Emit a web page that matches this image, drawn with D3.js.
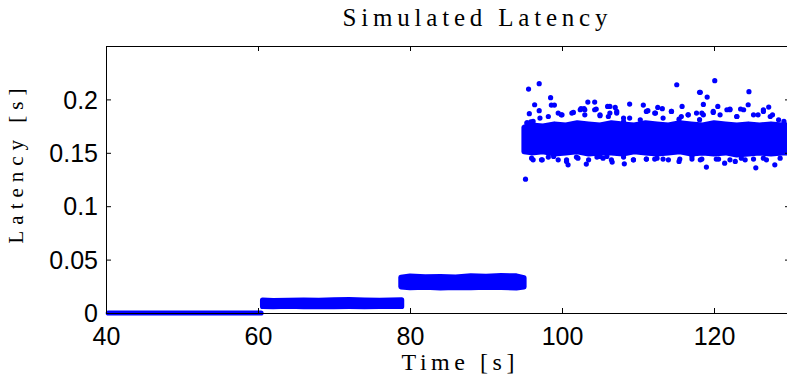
<!DOCTYPE html>
<html>
<head>
<meta charset="utf-8">
<script src="https://cdn.jsdelivr.net/npm/d3@7"></script>
<style>
  body { margin: 0; background: #fff; }
  #chart { display: block; }
</style>
</head>
<body>
<svg id="chart" width="787" height="385"></svg>
<script>
// tick values
var xTicks = [40, 60, 80, 100, 120];
var yTicks = [0, 0.05, 0.1, 0.15, 0.2];

// dense bands of markers: edges of the marker centres
var band1Time = [40.3, 60.4];
var band1Low  = [0, 0];
var band1High = [0, 0];

var band2Time = [60.6, 62, 64, 66, 68, 70, 72, 74, 76, 78.9];
var band2Low  = [0.0062, 0.0060, 0.0063, 0.0059, 0.0062, 0.0060, 0.0061, 0.0059, 0.0062, 0.0061];
var band2High = [0.0120, 0.0117, 0.0119, 0.0121, 0.0118, 0.0122, 0.0126, 0.0121, 0.0119, 0.0122];

var band3Time = [78.8, 80, 82, 84, 86, 88, 90, 92, 94, 95.0];
var band3Low  = [0.0245, 0.0238, 0.0242, 0.0236, 0.0240, 0.0237, 0.0243, 0.0239, 0.0236, 0.0244];
var band3High = [0.0335, 0.0345, 0.0338, 0.0342, 0.0336, 0.0348, 0.0344, 0.0350, 0.0347, 0.0330];

var band4Time = [95.0, 96, 97.5, 99, 100.5, 102, 103.5, 105, 106.5, 108, 109.5, 111, 112.5,
                 114, 115.5, 117, 118.5, 120, 121.5, 123, 124.5, 126, 127.5, 129, 130.5];
var band4Low  = [0.151, 0.150, 0.151, 0.149, 0.150, 0.151, 0.149, 0.150, 0.150, 0.149, 0.151, 0.150, 0.149,
                 0.150, 0.151, 0.149, 0.150, 0.149, 0.150, 0.148, 0.149, 0.150, 0.149, 0.150, 0.150];
var band4High = [0.174, 0.176, 0.175, 0.177, 0.176, 0.178, 0.177, 0.176, 0.178, 0.177, 0.176, 0.178, 0.177,
                 0.176, 0.178, 0.177, 0.176, 0.178, 0.177, 0.176, 0.177, 0.176, 0.177, 0.176, 0.176];

// scattered markers outside the dense part of the last band
var outTime = [95.6, 97.0, 95.2, 98.5, 96.4, 98.6, 99.0, 95.7, 97.0, 103.4, 104.3, 102.5, 102.9,
               101.5, 99.9, 104.5, 106.0, 103.0, 105.0, 95.4, 95.9,
               96.2, 97.4, 99.5, 100.6, 100.8, 103.2, 104.6, 98.2, 102.1, 105.4,
               115.1, 118.1, 108.9, 110.7, 106.3, 107.0, 112.6, 113.2, 115.8, 111.3, 112.3, 114.4,
               116.6, 107.2, 118.1, 106.1, 108.1, 115.4,
               106.6, 108.2, 109.4, 111.1, 112.2, 113.3, 115.4, 117.1, 105.9,
               120.1, 118.2, 119.1, 124.6, 118.6, 120.5, 121.7, 122.1, 123.5, 124.5, 126.5, 127.2,
               123.0, 127.7, 125.8, 119.9, 118.4,
               119.0, 125.5, 121.4, 122.8, 118.4, 120.6, 124.1, 128.0, 126.5];
var outLatency = [0.2097, 0.2147, 0.1253, 0.2016, 0.1950, 0.1947, 0.1947, 0.1866, 0.1894, 0.1975, 0.1975, 0.1913, 0.1913,
                  0.1878, 0.1856, 0.1910, 0.1934, 0.1856, 0.1847, 0.1780, 0.1790,
                  0.1434, 0.1434, 0.1434, 0.1419, 0.1387, 0.1394, 0.1460, 0.1460, 0.1450, 0.1450,
                  0.2137, 0.2066, 0.1956, 0.1947, 0.1934, 0.1925, 0.1925, 0.1913, 0.1934, 0.1894, 0.1872, 0.1887,
                  0.1856, 0.1872, 0.1810, 0.1840, 0.1793, 0.1815,
                  0.1413, 0.1397, 0.1434, 0.1441, 0.1441, 0.1441, 0.1419, 0.1441, 0.1466,
                  0.2175, 0.2066, 0.2022, 0.2072, 0.1953, 0.1934, 0.1903, 0.1910, 0.1910, 0.1950, 0.1903, 0.1928,
                  0.1840, 0.1856, 0.1856, 0.1878, 0.1872,
                  0.1366, 0.1359, 0.1403, 0.1419, 0.1441, 0.1441, 0.1434, 0.1387, 0.1450];

// markers along the ragged upper and lower edge of the last band
var edgeTime = [95.4, 96.2, 97.1, 98.2, 99.5, 100.0, 101.3, 102.4, 103.0, 104.3, 105.0, 106.3, 107.2,
                108.1, 108.9, 110.3, 111.1, 112.2, 113.3, 114.4, 115.7, 116.6, 117.7, 118.6, 119.9,
                120.8, 122.1, 123.0, 123.9, 125.2, 126.5, 127.4, 128.5, 129.2,
                96.0, 97.3, 98.9, 100.6, 101.9, 103.5, 105.0, 106.5, 108.1, 109.4, 111.1, 112.5,
                114.0, 115.5, 117.1, 118.2, 120.3, 122.1, 123.6, 125.2, 126.9, 128.7];
var edgeLatency = [0.1780, 0.1794, 0.1825, 0.1840, 0.1872, 0.1856, 0.1872, 0.1903, 0.1903, 0.1903, 0.1856, 0.1872, 0.1887,
                   0.1825, 0.1825, 0.1809, 0.1887, 0.1872, 0.1825, 0.1887, 0.1840, 0.1856, 0.1872, 0.1856, 0.1887,
                   0.1856, 0.1903, 0.1840, 0.1903, 0.1856, 0.1887, 0.1840, 0.1809, 0.1794,
                   0.1450, 0.1434, 0.1466, 0.1434, 0.1460, 0.1434, 0.1466, 0.1434, 0.1460, 0.1434, 0.1441, 0.1450,
                   0.1434, 0.1441, 0.1466, 0.1434, 0.1441, 0.1434, 0.1450, 0.1441, 0.1434, 0.1450];

var margin = {left: 106, top: 46},
	w = 684,
	h = 267,
	r = 2.6,
	blue = "#0000ff";

var xScale = d3.scaleLinear().domain([40, 130]).range([0, w]);
var yScale = d3.scaleLinear().domain([0, 0.25]).range([h, 0]);

var svg = d3.select("#chart");
var chart = svg.append("g")
	.attr("transform", "translate(" + margin.left + "," + margin.top + ")");

// bands: filled area between the edges, stroked by one marker diameter
var area = d3.area()
	.x(function(d) { return xScale(d.t); })
	.y0(function(d) { return yScale(d.lo); })
	.y1(function(d) { return yScale(d.hi); });

function bandData(time, low, high) {
	return time.map(function(t, i) { return {t: t, lo: low[i], hi: high[i]}; });
}

var bands = [
	bandData(band1Time, band1Low, band1High),
	bandData(band2Time, band2Low, band2High),
	bandData(band3Time, band3Low, band3High),
	bandData(band4Time, band4Low, band4High)
];

chart.append("g")
	.attr("class", "bands")
	.selectAll("path")
	.data(bands)
	.enter()
	.append("path")
	.attr("d", area)
	.attr("fill", blue)
	.attr("stroke", blue)
	.attr("stroke-width", r * 2)
	.attr("stroke-linejoin", "round")
	.attr("stroke-linecap", "round");

var points = outTime.map(function(t, i) { return {t: t, val: outLatency[i]}; })
	.concat(edgeTime.map(function(t, i) { return {t: t, val: edgeLatency[i]}; }));

chart.append("g")
	.attr("class", "points")
	.selectAll("circle")
	.data(points)
	.enter()
	.append("circle")
	.attr("cx", function(d) { return xScale(d.t); })
	.attr("cy", function(d) { return yScale(d.val); })
	.attr("r", r)
	.attr("fill", blue);

// axes box with inward ticks on all sides (matlab style)
var tickLen = 5;
var xAxis = d3.axisBottom(xScale).tickValues(xTicks)
	.tickSizeInner(-tickLen).tickSizeOuter(0).tickPadding(14)
	.tickFormat(d3.format("d"));
var yAxis = d3.axisLeft(yScale).tickValues(yTicks)
	.tickSizeInner(-tickLen).tickSizeOuter(0).tickPadding(8)
	.tickFormat(function(d) { return d === 0 ? "0" : String(+d.toFixed(2)); });
var xTop = d3.axisTop(xScale).tickValues(xTicks)
	.tickSizeInner(-tickLen).tickSizeOuter(0).tickFormat("");
var yRight = d3.axisRight(yScale).tickValues(yTicks)
	.tickSizeInner(-tickLen).tickSizeOuter(0).tickFormat("");

chart.append("g").attr("class", "xAxis")
	.attr("transform", "translate(0," + h + ")").call(xAxis);
chart.append("g").attr("class", "yAxis").call(yAxis);
chart.append("g").attr("class", "xTop").call(xTop);
chart.append("g").attr("class", "yRight")
	.attr("transform", "translate(" + w + ",0)").call(yRight);

chart.selectAll(".domain").remove();
chart.selectAll(".tick line").attr("stroke", "#000").attr("stroke-width", 1);
chart.selectAll(".xAxis text, .yAxis text")
	.attr("fill", "#000")
	.style("font-family", "'Liberation Sans', Arial, sans-serif")
	.style("font-size", "25px");
chart.select(".yAxis").selectAll("text").attr("dy", "0.35em");

chart.append("rect")
	.attr("x", 0.5)
	.attr("y", 0.5)
	.attr("width", w)
	.attr("height", h)
	.attr("fill", "none")
	.attr("stroke", "#000")
	.attr("stroke-width", 1);

// labels
var serif = "'Liberation Serif', 'DejaVu Serif', serif";

svg.append("text")
	.attr("x", 475)
	.attr("y", 26)
	.attr("text-anchor", "middle")
	.attr("textLength", 265)
	.attr("lengthAdjust", "spacing")
	.style("font-family", serif)
	.style("font-size", "25px")
	.text("Simulated Latency");

svg.append("text")
	.attr("x", 458)
	.attr("y", 370)
	.attr("text-anchor", "middle")
	.attr("textLength", 113)
	.attr("lengthAdjust", "spacing")
	.style("font-family", serif)
	.style("font-size", "24px")
	.text("Time [s]");

svg.append("text")
	.attr("transform", "translate(23,166) rotate(-90)")
	.attr("text-anchor", "middle")
	.attr("textLength", 155)
	.attr("lengthAdjust", "spacing")
	.style("font-family", serif)
	.style("font-size", "21px")
	.text("Latency [s]");
</script>
</body>
</html>
